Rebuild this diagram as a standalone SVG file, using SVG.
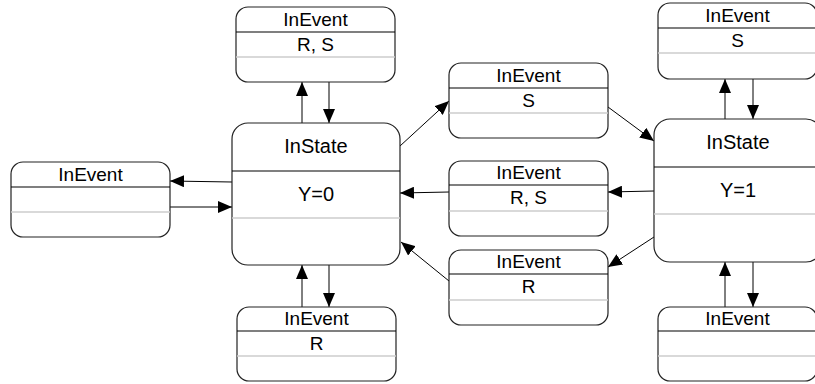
<svg xmlns="http://www.w3.org/2000/svg" width="815" height="384" viewBox="0 0 815 384">
<defs>
<style>
.box{fill:#fff;stroke:#222;stroke-width:1.2}
.hd{stroke:#000;stroke-width:1.2}
.gr{stroke:#ccc;stroke-width:1.5}
.t{font-family:"Liberation Sans",Arial,sans-serif;font-size:19px;fill:#000;text-anchor:middle}
.st{font-family:"Liberation Sans",Arial,sans-serif;font-size:20px;fill:#000;text-anchor:middle}
.c{stroke:#000;stroke-width:1;fill:none;marker-end:url(#ah)}
</style>
<marker id="ah" viewBox="0 0 14 12" refX="14" refY="6" markerWidth="14" markerHeight="12" markerUnits="userSpaceOnUse" orient="auto">
<path d="M0,0 L14,6 L0,12 z" fill="#000"/>
</marker>
</defs>
<rect width="815" height="384" fill="#fff"/>
<g id="connectors">
<line class="c" x1="232" y1="182" x2="170" y2="181"/>
<line class="c" x1="170" y1="207" x2="232" y2="207"/>
<line class="c" x1="302" y1="123" x2="302" y2="82"/>
<line class="c" x1="329" y1="82" x2="329" y2="123"/>
<line class="c" x1="302" y1="307" x2="302" y2="265"/>
<line class="c" x1="329" y1="265" x2="329" y2="307"/>
<line class="c" x1="400" y1="146" x2="449" y2="101"/>
<line class="c" x1="608" y1="107" x2="654" y2="141"/>
<line class="c" x1="654" y1="191" x2="608" y2="192"/>
<line class="c" x1="449" y1="192" x2="400" y2="193"/>
<line class="c" x1="654" y1="237" x2="608" y2="267"/>
<line class="c" x1="449" y1="281" x2="401" y2="242"/>
<line class="c" x1="725" y1="119" x2="725" y2="79"/>
<line class="c" x1="753" y1="79" x2="753" y2="119"/>
<line class="c" x1="725" y1="307" x2="725" y2="262"/>
<line class="c" x1="753" y1="262" x2="753" y2="307"/>
</g>
<g id="ev-left">
<rect class="box" x="11" y="162" width="159" height="75" rx="12"/>
<line class="hd" x1="11" y1="187" x2="170" y2="187"/>
<line class="gr" x1="11" y1="212" x2="170" y2="212"/>
<text class="t" x="90.5" y="181">InEvent</text>
</g>
<g id="ev-top0">
<rect class="box" x="236" y="7" width="159" height="75" rx="12"/>
<line class="hd" x1="236" y1="32" x2="395" y2="32"/>
<line class="gr" x1="236" y1="57" x2="395" y2="57"/>
<text class="t" x="315.5" y="26">InEvent</text>
<text class="t" x="315.5" y="51">R, S</text>
</g>
<g id="state0">
<rect class="box" x="232" y="123" width="168" height="142" rx="16"/>
<line class="hd" x1="232" y1="171" x2="400" y2="171"/>
<line class="gr" x1="232" y1="218" x2="400" y2="218"/>
<text class="st" x="316" y="153">InState</text>
<text class="st" x="316" y="201">Y=0</text>
</g>
<g id="ev-bot0">
<rect class="box" x="237" y="307" width="159" height="74" rx="12"/>
<line class="hd" x1="237" y1="331" x2="396" y2="331"/>
<line class="gr" x1="237" y1="356" x2="396" y2="356"/>
<text class="t" x="316.5" y="325">InEvent</text>
<text class="t" x="316.5" y="350">R</text>
</g>
<g id="ev-S">
<rect class="box" x="449" y="63" width="159" height="75" rx="12"/>
<line class="hd" x1="449" y1="88" x2="608" y2="88"/>
<line class="gr" x1="449" y1="113" x2="608" y2="113"/>
<text class="t" x="528.5" y="82">InEvent</text>
<text class="t" x="528.5" y="107">S</text>
</g>
<g id="ev-RS">
<rect class="box" x="449" y="161" width="159" height="75" rx="12"/>
<line class="hd" x1="449" y1="185" x2="608" y2="185"/>
<line class="gr" x1="449" y1="211" x2="608" y2="211"/>
<text class="t" x="528.5" y="179">InEvent</text>
<text class="t" x="528.5" y="204">R, S</text>
</g>
<g id="ev-R">
<rect class="box" x="449" y="250" width="159" height="75" rx="12"/>
<line class="hd" x1="449" y1="274" x2="608" y2="274"/>
<line class="gr" x1="449" y1="300" x2="608" y2="300"/>
<text class="t" x="528.5" y="268">InEvent</text>
<text class="t" x="528.5" y="293">R</text>
</g>
<g id="ev-top1">
<rect class="box" x="658" y="3" width="159" height="76" rx="12"/>
<line class="hd" x1="658" y1="28" x2="817" y2="28"/>
<line class="gr" x1="658" y1="53" x2="817" y2="53"/>
<text class="t" x="737.5" y="22">InEvent</text>
<text class="t" x="737.5" y="47">S</text>
</g>
<g id="state1">
<rect class="box" x="654" y="119" width="168" height="143" rx="16"/>
<line class="hd" x1="654" y1="167" x2="822" y2="167"/>
<line class="gr" x1="654" y1="214" x2="822" y2="214"/>
<text class="st" x="738" y="149">InState</text>
<text class="st" x="738" y="197">Y=1</text>
</g>
<g id="ev-bot1">
<rect class="box" x="658" y="307" width="159" height="74" rx="12"/>
<line class="hd" x1="658" y1="331" x2="817" y2="331"/>
<line class="gr" x1="658" y1="356" x2="817" y2="356"/>
<text class="t" x="737.5" y="325">InEvent</text>
</g>
</svg>
